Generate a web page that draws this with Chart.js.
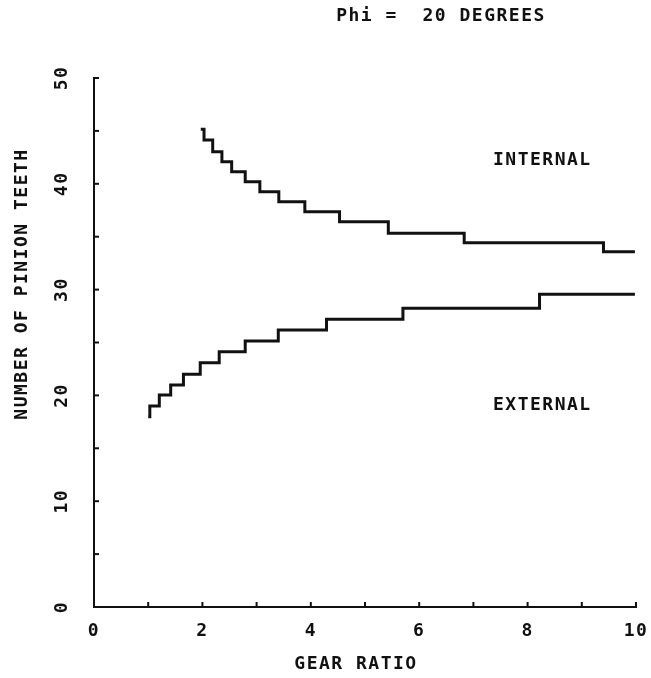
<!DOCTYPE html>
<html>
<head>
<meta charset="utf-8">
<script src="https://cdn.jsdelivr.net/npm/chart.js@4.4.1/dist/chart.umd.min.js"></script>
<style>
  html, body { margin: 0; padding: 0; background: #ffffff; }
  #wrap { width: 651px; height: 678px; position: relative; }
</style>
</head>
<body>
<div id="wrap"><canvas id="c" width="651" height="678"></canvas></div>
<script>
// ---- text ----
const chartTitle = 'Phi =  20 DEGREES';
const xAxisTitle = 'GEAR RATIO';
const yAxisTitle = 'NUMBER OF PINION TEETH';
const internalLabel = 'INTERNAL';
const externalLabel = 'EXTERNAL';

// ---- axis ticks ----
const xTickValues = [0, 1, 2, 3, 4, 5, 6, 7, 8, 9, 10];
const xTickLabels = ['0', '', '2', '', '4', '', '6', '', '8', '', '10'];
const yTickValues = [0, 5, 10, 15, 20, 25, 30, 35, 40, 45, 50];
const yTickLabels = ['0', '', '10', '', '20', '', '30', '', '40', '', '50'];

// ---- series: internal gears (step curve, value held until next ratio) ----
const internalRatio = [1.97, 2.03, 2.19, 2.36, 2.54, 2.79, 3.06, 3.41, 3.89, 4.53, 5.43, 6.83, 9.40, 9.98];
const internalTeeth = [45.15, 44.14, 43.03, 42.09, 41.14, 40.2, 39.25, 38.31, 37.36, 36.42, 35.32, 34.43, 33.58, 33.58];

// ---- series: external gears ----
const externalRatio = [1.00, 1.03, 1.205, 1.415, 1.65, 1.96, 2.31, 2.79, 3.40, 4.29, 5.70, 8.22, 9.98];
const externalTeeth = [17.99, 19.0, 20.04, 20.98, 21.99, 23.09, 24.13, 25.14, 26.18, 27.19, 28.23, 29.56, 29.56];

const INK = '#111111';
const FONT_FAMILY = '"DejaVu Sans Mono", "Liberation Mono", monospace';
const LABEL_FONT = { family: FONT_FAMILY, size: 18, weight: 'bold' };

function toPoints(xs, ys) { return xs.map((x, i) => ({ x: x, y: ys[i] })); }

const plotterDecor = {
  id: 'plotterDecor',
  beforeLayout(chart) { chart.ctx.letterSpacing = '1.5px'; },
  beforeDraw(chart) {
    const ctx = chart.ctx;
    ctx.save();
    ctx.fillStyle = '#ffffff';
    ctx.fillRect(0, 0, chart.width, chart.height);
    ctx.restore();
    ctx.letterSpacing = '1.5px';
  },
  afterDraw(chart) {
    const ctx = chart.ctx;
    const xs = chart.scales.x, ys = chart.scales.y;
    ctx.save();
    ctx.letterSpacing = '1.5px';
    ctx.strokeStyle = INK;
    ctx.lineWidth = 2;
    // inward tick marks
    xs.ticks.forEach(t => {
      const px = xs.getPixelForValue(t.value);
      ctx.beginPath(); ctx.moveTo(px, ys.bottom); ctx.lineTo(px, ys.bottom - 5); ctx.stroke();
    });
    ys.ticks.forEach(t => {
      const py = ys.getPixelForValue(t.value);
      ctx.beginPath(); ctx.moveTo(xs.left, py); ctx.lineTo(xs.left + 5, py); ctx.stroke();
    });
    // rotated y tick labels
    ctx.fillStyle = INK;
    ctx.font = 'bold 18px ' + FONT_FAMILY;
    ctx.textAlign = 'center';
    ctx.textBaseline = 'middle';
    ys.ticks.forEach(t => {
      const idx = yTickValues.indexOf(t.value);
      const lab = idx >= 0 ? yTickLabels[idx] : '';
      if (!lab) return;
      const py = ys.getPixelForValue(t.value);
      ctx.save(); ctx.translate(62, py); ctx.rotate(-Math.PI / 2); ctx.fillText(lab, 0, 0); ctx.restore();
    });
    // y axis title
    ctx.save(); ctx.translate(22, 284); ctx.rotate(-Math.PI / 2); ctx.fillText(yAxisTitle, 0, 0); ctx.restore();
    // x axis title
    ctx.fillText(xAxisTitle, 356, 664);
    // chart title
    ctx.fillText(chartTitle, 441, 16);
    // curve labels
    ctx.textAlign = 'left';
    ctx.fillText(internalLabel, 493, 160);
    ctx.fillText(externalLabel, 493, 405);
    ctx.restore();
  }
};

new Chart(document.getElementById('c'), {
  type: 'line',
  data: {
    datasets: [
      {
        label: 'Internal',
        data: toPoints(internalRatio, internalTeeth),
        stepped: true,
        borderColor: INK,
        borderWidth: 3,
        pointRadius: 0,
        fill: false
      },
      {
        label: 'External',
        data: toPoints(externalRatio, externalTeeth),
        stepped: true,
        borderColor: INK,
        borderWidth: 3,
        pointRadius: 0,
        fill: false
      }
    ]
  },
  options: {
    responsive: false,
    devicePixelRatio: 1,
    animation: false,
    layout: { padding: { left: 0, top: 78, right: 15, bottom: 0 } },
    plugins: { legend: { display: false }, title: { display: false }, tooltip: { enabled: false } },
    scales: {
      x: {
        type: 'linear',
        min: 0, max: 10,
        afterBuildTicks: s => { s.ticks = xTickValues.map(v => ({ value: v })); },
        afterFit: s => { s.height = 71; s.paddingLeft = 0; s.paddingRight = 0; },
        ticks: {
          autoSkip: false, maxRotation: 0, minRotation: 0, padding: 14,
          color: INK, font: LABEL_FONT,
          callback: (v) => { const i = xTickValues.indexOf(v); return i >= 0 ? xTickLabels[i] : ''; }
        },
        grid: { display: false, drawTicks: false },
        border: { display: true, color: INK, width: 2 }
      },
      y: {
        type: 'linear',
        min: 0, max: 50,
        afterBuildTicks: s => { s.ticks = yTickValues.map(v => ({ value: v })); },
        afterFit: s => { s.width = 94; s.paddingTop = 0; s.paddingBottom = 0; },
        ticks: { display: false },
        grid: { display: false, drawTicks: false },
        border: { display: true, color: INK, width: 2 }
      }
    }
  },
  plugins: [plotterDecor]
});
</script>
</body>
</html>
